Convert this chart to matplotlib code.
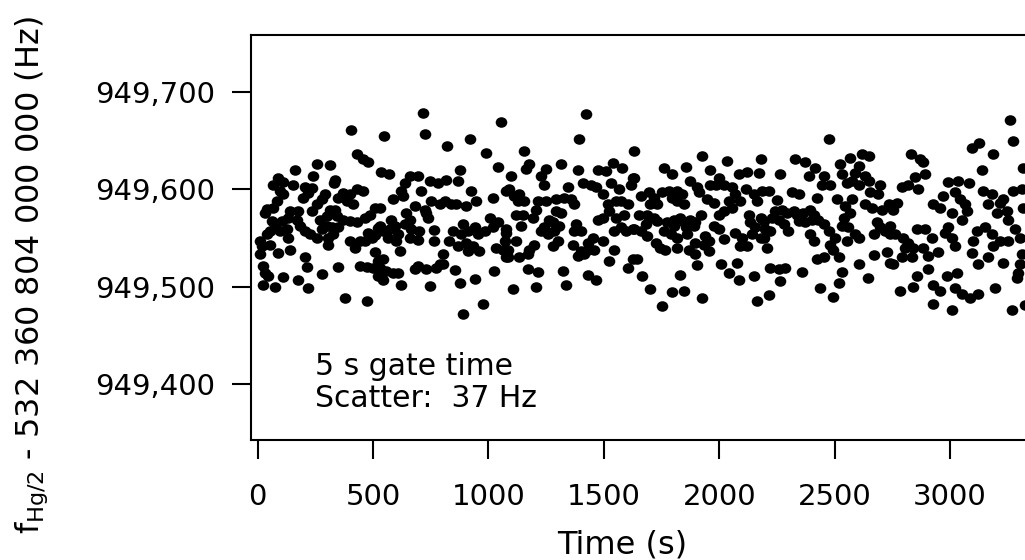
"""Frequency record of f_Hg/2 over ~3300 s, 5 s gate time."""
import numpy as np
import matplotlib
matplotlib.use('Agg')
import matplotlib.pyplot as plt
from matplotlib.path import Path
from matplotlib.transforms import Affine2D
from matplotlib.ticker import FuncFormatter

plt.rcParams['font.family'] = ['DejaVu Sans']
plt.rcParams['mathtext.fontset'] = 'dejavusans'

# offset of all readings (Hz)
BASE = 949000

# data, in six time blocks: time (s), freq - BASE (Hz)
t_a = [404, 429, 458, 480, 256, 313, 162, 90, 68, 111, 241, 335, 331, 155, 205, 234, 220, 198, 429, 458,
       400, 371, 350, 386, 415, 97, 83, 111, 292, 277, 256, 39, 32, 68, 234, 140, 176, 133, 169, 313,
       335, 299, 400, 371, 429, 342, 465, 487, 508, 61, 104, 75, 54, 97, 270, 299, 321, 350, 328, 306,
       277, 183, 205, 227, 256, 126, 133, 10, 18, 39, 54, 494, 465, 443, 480, 508, 523, 400, 422, 306,
       10, 90, 140, 205, 508, 523, 25, 32, 46, 25, 75, 111, 212, 350, 443, 472, 501, 523, 176, 277,
       220, 378, 472]
f_a = [661, 636, 631, 628, 626, 625, 620, 612, 605, 608, 614, 610, 607, 605, 603, 601, 596, 591, 600, 598,
       595, 596, 591, 588, 585, 598, 588, 595, 595, 590, 585, 580, 576, 581, 578, 578, 578, 571, 569, 579,
       579, 573, 567, 569, 566, 573, 571, 574, 581, 567, 567, 560, 557, 557, 569, 562, 561, 561, 554, 550,
       559, 562, 557, 554, 550, 559, 550, 547, 542, 554, 543, 550, 547, 547, 555, 553, 560, 547, 540, 543,
       533, 535, 538, 530, 536, 526, 521, 514, 511, 502, 500, 510, 520, 520, 521, 520, 519, 511, 507, 513,
       499, 488, 485]

t_b = [716, 1055, 547, 727, 821, 918, 990, 1041, 535, 569, 658, 694, 637, 622, 586, 629, 745, 781, 817, 868,
       875, 709, 925, 947, 1019, 1077, 680, 723, 752, 788, 810, 839, 860, 904, 528, 644, 658, 637, 738, 730,
       1005, 1041, 1019, 983, 954, 940, 889, 911, 882, 846, 831, 868, 579, 593, 572, 543, 528, 608, 564, 600,
       665, 701, 694, 658, 766, 766, 1077, 1070, 904, 933, 961, 911, 1034, 1062, 1077, 615, 803, 788, 543, 528,
       557, 543, 586, 608, 680, 694, 730, 774, 803, 853, 1026, 622, 745, 875, 940, 976, 889]
f_b = [679, 669, 655, 657, 645, 652, 638, 623, 618, 616, 614, 614, 607, 598, 590, 593, 609, 607, 610, 609,
       620, 598, 598, 588, 591, 598, 583, 579, 588, 585, 588, 585, 585, 583, 581, 576, 569, 564, 571, 576,
       571, 566, 561, 557, 554, 561, 564, 557, 554, 557, 547, 542, 569, 562, 559, 557, 562, 554, 550, 547,
       559, 557, 548, 550, 558, 547, 555, 547, 545, 542, 537, 537, 540, 538, 530, 537, 534, 523, 528, 519,
       516, 507, 514, 514, 518, 521, 518, 519, 523, 517, 516, 502, 501, 504, 508, 482, 472]

t_c = [1423, 1394, 1155, 1632, 1314, 1177, 1163, 1249, 1228, 1242, 1386, 1473, 1509, 1538, 1578, 1625, 1618,
       1098, 1408, 1444, 1466, 1495, 1531, 1567, 1574, 1553, 1603, 1343, 1090, 1112, 1134, 1155, 1127, 1213,
       1249, 1293, 1329, 1358, 1372, 1206, 1191, 1314, 1293, 1119, 1148, 1141, 1516, 1524, 1495, 1553, 1589,
       1574, 1596, 1625, 1545, 1473, 1264, 1278, 1242, 1228, 1256, 1285, 1307, 1379, 1401, 1372, 1076, 1451,
       1430, 1459, 1423, 1495, 1300, 1278, 1365, 1386, 1401, 1415, 1119, 1199, 1177, 1170, 1083, 1083, 1134,
       1545, 1524, 1625, 1603, 1170, 1213, 1321, 1430, 1466, 1105, 1206, 1336]
f_c = [678, 652, 640, 640, 626, 626, 621, 621, 614, 605, 620, 620, 619, 627, 622, 612, 605,
       614, 607, 605, 602, 595, 607, 600, 588, 588, 585, 603, 600, 593, 595, 588, 588, 588,
       588, 590, 591, 590, 585, 579, 571, 576, 578, 574, 574, 562, 585, 578, 571, 571, 574,
       561, 557, 559, 557, 569, 569, 566, 561, 557, 554, 557, 562, 564, 557, 557, 559, 550,
       545, 538, 537, 547, 547, 542, 543, 531, 537, 533, 547, 543, 538, 533, 538, 530, 530,
       538, 526, 528, 519, 518, 515, 516, 512, 507, 497, 500, 502]

t_d = [1926, 2034, 1760, 1796, 1858, 1962, 1998, 1984, 1962, 2085, 2121, 2179, 2171, 1875, 1904, 1912, 2020,
       2056, 2070, 2092, 2114, 2150, 2164, 2186, 1630, 1659, 1695, 1717, 1702, 1731, 1753, 1782, 1796, 1818,
       1839, 1847, 1818, 1948, 1976, 2041, 2056, 2020, 1998, 1652, 1688, 1717, 1731, 1774, 1803, 1832, 1847,
       1875, 1897, 1919, 1890, 2128, 2135, 2157, 2179, 1630, 1659, 1681, 1688, 1760, 1789, 1818, 1803, 1861,
       1854, 1940, 1955, 1933, 1955, 1976, 1998, 2020, 2070, 2099, 2092, 2121, 2142, 2179, 1724, 1745, 1767,
       1818, 1897, 1868, 1897, 1644, 1904, 2008, 2041, 2078, 2085, 1666, 1832, 1702, 1796, 1847, 1753, 1926,
       2150, 2164]
f_d = [634, 629, 622, 616, 623, 620, 612, 605, 605, 616, 618, 631, 617, 609, 602, 597, 605,
       602, 595, 588, 600, 595, 588, 598, 612, 593, 597, 591, 585, 585, 597, 598, 591, 598,
       595, 585, 588, 590, 586, 588, 581, 578, 574, 574, 574, 571, 567, 566, 569, 571, 566,
       569, 566, 574, 562, 574, 566, 561, 571, 559, 557, 564, 552, 557, 554, 550, 562, 554,
       561, 552, 547, 543, 537, 562, 559, 549, 555, 550, 542, 542, 554, 550, 545, 540, 538,
       540, 545, 538, 533, 528, 522, 523, 514, 524, 507, 511, 512, 497, 494, 495, 480, 488,
       511, 485]

t_e = [2474, 2329, 2373, 2416, 2524, 2568, 2532, 2618, 2647, 2604, 2589, 2264, 2387, 2452, 2445, 2481, 2553,
       2575, 2604, 2633, 2647, 2698, 2690, 2654, 2214, 2315, 2344, 2423, 2510, 2575, 2250, 2633, 2662, 2705,
       2734, 2546, 2568, 2539, 2243, 2272, 2293, 2322, 2337, 2365, 2394, 2409, 2228, 2257, 2279, 2344, 2373,
       2402, 2430, 2452, 2474, 2503, 2192, 2199, 2221, 2300, 2532, 2560, 2683, 2698, 2719, 2669, 2741, 2394,
       2409, 2481, 2495, 2553, 2589, 2604, 2192, 2207, 2517, 2423, 2452, 2669, 2726, 2741, 2604, 2221, 2257,
       2286, 2264, 2358, 2532, 2517, 2644, 2217, 2438, 2491]
f_e = [652, 631, 628, 622, 626, 632, 616, 636, 634, 624, 617, 616, 614, 614, 605, 605, 607,
       609, 605, 614, 609, 605, 595, 597, 598, 597, 595, 591, 590, 590, 589, 585, 581, 579,
       585, 583, 576, 571, 578, 579, 576, 578, 574, 576, 579, 574, 571, 569, 564, 567, 566,
       569, 569, 564, 557, 550, 567, 559, 557, 557, 562, 561, 566, 561, 557, 554, 554, 554,
       547, 543, 538, 547, 554, 550, 550, 540, 530, 528, 530, 532, 536, 524, 523, 519, 518,
       519, 506, 515, 515, 504, 509, 491, 498, 489]

t_f = [3260, 3271, 3094, 3127, 3188, 2830, 2870, 2884, 3318, 3137, 2892, 2848, 2791, 2819, 2863, 2993, 3036,
       3084, 3022, 3043, 3065, 3072, 3050, 3144, 3180, 3166, 3217, 3231, 3274, 3311, 2971, 2928, 2957, 2769,
       2754, 3007, 3202, 3245, 3253, 3318, 2993, 2978, 3007, 3022, 2740, 2762, 2798, 2819, 2805, 2841, 2834,
       2791, 2754, 2856, 2892, 2921, 2884, 2906, 2949, 3115, 3151, 3180, 3217, 3253, 3188, 3101, 3094, 3123,
       3166, 3282, 3303, 3311, 3303, 3231, 2906, 2856, 2841, 2783, 2986, 3029, 2928, 2957, 3022, 3050, 3087,
       3123, 2928, 3007, 3195, 3267, 3289, 3296, 3325]
f_f = [671, 650, 643, 648, 636, 636, 631, 628, 622, 620, 616, 613, 603, 605, 600, 608, 609,
       607, 597, 590, 585, 578, 569, 598, 595, 585, 586, 590, 598, 600, 593, 585, 581, 586,
       579, 576, 576, 578, 569, 581, 561, 555, 550, 542, 562, 554, 550, 545, 540, 540, 530,
       530, 523, 559, 559, 550, 540, 531, 536, 557, 561, 554, 547, 547, 542, 547, 535, 523,
       530, 559, 550, 533, 523, 524, 518, 511, 500, 495, 511, 514, 502, 495, 499, 492, 488,
       492, 482, 476, 499, 476, 509, 514, 481]

yticks = [949400, 949500, 949600, 949700]
xticks = [0, 500, 1000, 1500, 2000, 2500, 3000]

time = np.concatenate([t_a, t_b, t_c, t_d, t_e, t_f])
freq = BASE + np.concatenate([f_a, f_b, f_c, f_d, f_e, f_f])

fig = plt.figure(figsize=(10.25, 5.6), dpi=100)
ax = fig.add_axes([0.2449, 0.2143, 0.7551, 0.7232])

# dots are slightly wider than tall
ell = Path.unit_circle().transformed(Affine2D().scale(1.1, 1.0))
ax.scatter(time, freq, s=70, marker=ell, color='black', linewidths=0, zorder=3)

ax.set_xlim(-29, 3325)
ax.set_ylim(949342, 949759)
ax.set_xticks(xticks)
ax.set_yticks(yticks)
ax.yaxis.set_major_formatter(FuncFormatter(lambda v, p: f'{v:,.0f}'))

for s in ['left', 'top', 'bottom']:
    ax.spines[s].set_linewidth(1.5)
ax.spines['right'].set_visible(False)
ax.tick_params(direction='out', length=14, width=1.5, labelsize=21)
ax.tick_params(axis='y', pad=12)
ax.tick_params(axis='x', pad=17)

ax.text(0.083, 0.218, '5 s gate time\nScatter:  37 Hz', transform=ax.transAxes,
        fontsize=21.5, va='top', ha='left', linespacing=1.15)

fig.text(0.607, 0.027, 'Time (s)', ha='center', va='center', fontsize=23)
fig.text(0.031, 0.509, r'f$_{\mathrm{Hg/2}}$ - 532 360 804 000 000 (Hz)', rotation=90,
         ha='center', va='center', fontsize=23)

plt.savefig('out.png', dpi=100)
